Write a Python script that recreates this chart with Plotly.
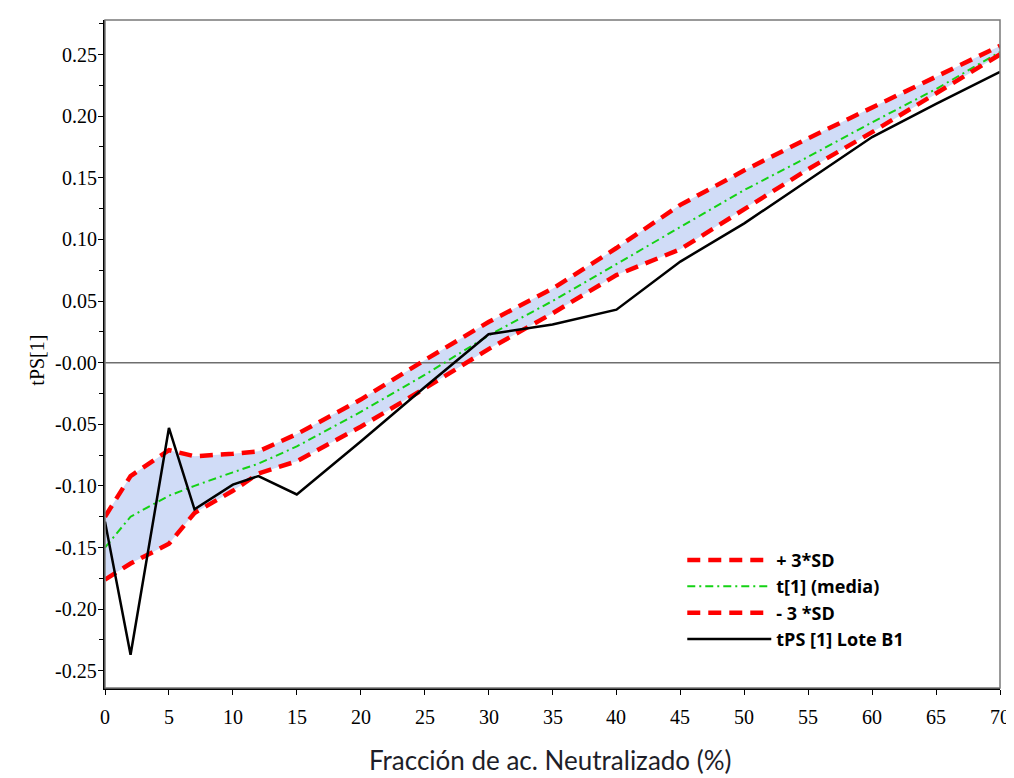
import plotly.graph_objects as go

x_vals = [0, 2, 5, 7, 10, 12, 15, 20, 25, 30, 35, 40, 45, 50, 55, 60, 65, 70]
upper_sd = [-0.125, -0.092, -0.071, -0.076, -0.074, -0.072, -0.058, -0.030, 0.002, 0.033,
            0.060, 0.093, 0.128, 0.156, 0.182, 0.207, 0.232, 0.257]
mean_t = [-0.150, -0.125, -0.108, -0.100, -0.089, -0.082, -0.068, -0.040, -0.010, 0.022,
          0.050, 0.080, 0.110, 0.140, 0.167, 0.195, 0.222, 0.252]
lower_sd = [-0.176, -0.163, -0.147, -0.122, -0.104, -0.090, -0.080, -0.052, -0.021, 0.011,
            0.040, 0.071, 0.092, 0.125, 0.157, 0.187, 0.218, 0.250]
lote_b1 = [-0.129, -0.237, -0.053, -0.119, -0.099, -0.092, -0.107, -0.064, -0.020, 0.023,
           0.031, 0.043, 0.082, 0.113, 0.148, 0.183, 0.210, 0.236]

x_ticks = list(range(0, 71, 5))
x_ticktext = [str(v) for v in x_ticks]
y_tickvals = [0.25, 0.20, 0.15, 0.10, 0.05, 0.0, -0.05, -0.10, -0.15, -0.20, -0.25]
y_ticktext = ["0.25", "0.20", "0.15", "0.10", "0.05", "-0.00", "-0.05", "-0.10", "-0.15", "-0.20", "-0.25"]

x_title = "Fracción de ac. Neutralizado (%)"
y_title = "tPS[1]"

SERIF = "Liberation Serif, Times New Roman, serif"

fig = go.Figure()

fig.add_trace(go.Scatter(x=x_vals, y=upper_sd, mode="lines", line=dict(width=0),
                         showlegend=False, hoverinfo="skip"))
fig.add_trace(go.Scatter(x=x_vals, y=lower_sd, mode="lines", line=dict(width=0),
                         fill="tonexty", fillcolor="rgb(208,220,247)",
                         showlegend=False, hoverinfo="skip"))
fig.add_trace(go.Scatter(x=[0, 70], y=[0, 0], mode="lines",
                         line=dict(color="rgb(110,110,110)", width=1.5),
                         showlegend=False, hoverinfo="skip"))
fig.add_trace(go.Scatter(x=x_vals, y=upper_sd, mode="lines", name="+ 3*SD",
                         line=dict(color="rgb(255,0,0)", width=4.5, dash="13px,8px")))
fig.add_trace(go.Scatter(x=x_vals, y=mean_t, mode="lines", name="t[1] (media)",
                         line=dict(color="rgb(20,210,20)", width=2, dash="8px,4px,2px,4px")))
fig.add_trace(go.Scatter(x=x_vals, y=lower_sd, mode="lines", name="- 3 *SD",
                         line=dict(color="rgb(255,0,0)", width=4.5, dash="13px,8px")))
fig.add_trace(go.Scatter(x=x_vals, y=lote_b1, mode="lines", name="tPS [1] Lote B1",
                         line=dict(color="black", width=2.5)))

fig.add_shape(type="rect", xref="paper", yref="paper", x0=0, y0=0, x1=1, y1=1,
              line=dict(color="rgb(120,120,120)", width=1.5), layer="above")

# tick labels as annotations (serif font), positioned by the axes' own scales
for v, t in zip(y_tickvals, y_ticktext):
    fig.add_annotation(xref="paper", yref="y", x=0, y=v, xanchor="right", yanchor="middle",
                       xshift=-6, showarrow=False, text=t,
                       font=dict(family=SERIF, size=20, color="black"))
for v, t in zip(x_ticks, x_ticktext):
    fig.add_annotation(xref="x", yref="paper", x=v, y=0, xanchor="center", yanchor="middle",
                       yshift=-29, showarrow=False, text=t,
                       font=dict(family=SERIF, size=20, color="black"))

# axis titles
fig.add_annotation(xref="paper", yref="paper", x=0.497, y=0, xanchor="center", yanchor="middle",
                   yshift=-72, showarrow=False, text=x_title,
                   font=dict(family="Lato", size=26, color="rgb(30,30,40)"))
fig.add_annotation(xref="paper", yref="paper", x=0, y=0.49, xanchor="center", yanchor="middle",
                   xshift=-68, showarrow=False, text=y_title, textangle=-90,
                   font=dict(family=SERIF, size=20, color="black"))

fig.update_layout(
    width=1006, height=770,
    margin=dict(l=97, r=14, t=12, b=90),
    paper_bgcolor="white", plot_bgcolor="white",
    legend=dict(x=0.645, y=0.219, xanchor="left", yanchor="top", traceorder="normal",
                bgcolor="rgba(255,255,255,0)", itemwidth=84,
                font=dict(family="Open Sans", size=18, color="black", weight="bold")),
    xaxis=dict(range=[0, 70], tickvals=x_ticks, ticks="outside", ticklen=5,
               tickcolor="black", showgrid=False, zeroline=False, automargin=False,
               showticklabels=False,
               showline=True, linecolor="black", linewidth=1.5),
    yaxis=dict(range=[-0.264, 0.278], tickvals=y_tickvals,
               ticks="outside", ticklen=5, tickcolor="black", automargin=False,
               showticklabels=False,
               minor=dict(dtick=0.025, tick0=0, ticks="outside", ticklen=4, tickcolor="black"),
               showgrid=False, zeroline=False,
               showline=True, linecolor="black", linewidth=1.5),
)

fig.write_html("out.html")
